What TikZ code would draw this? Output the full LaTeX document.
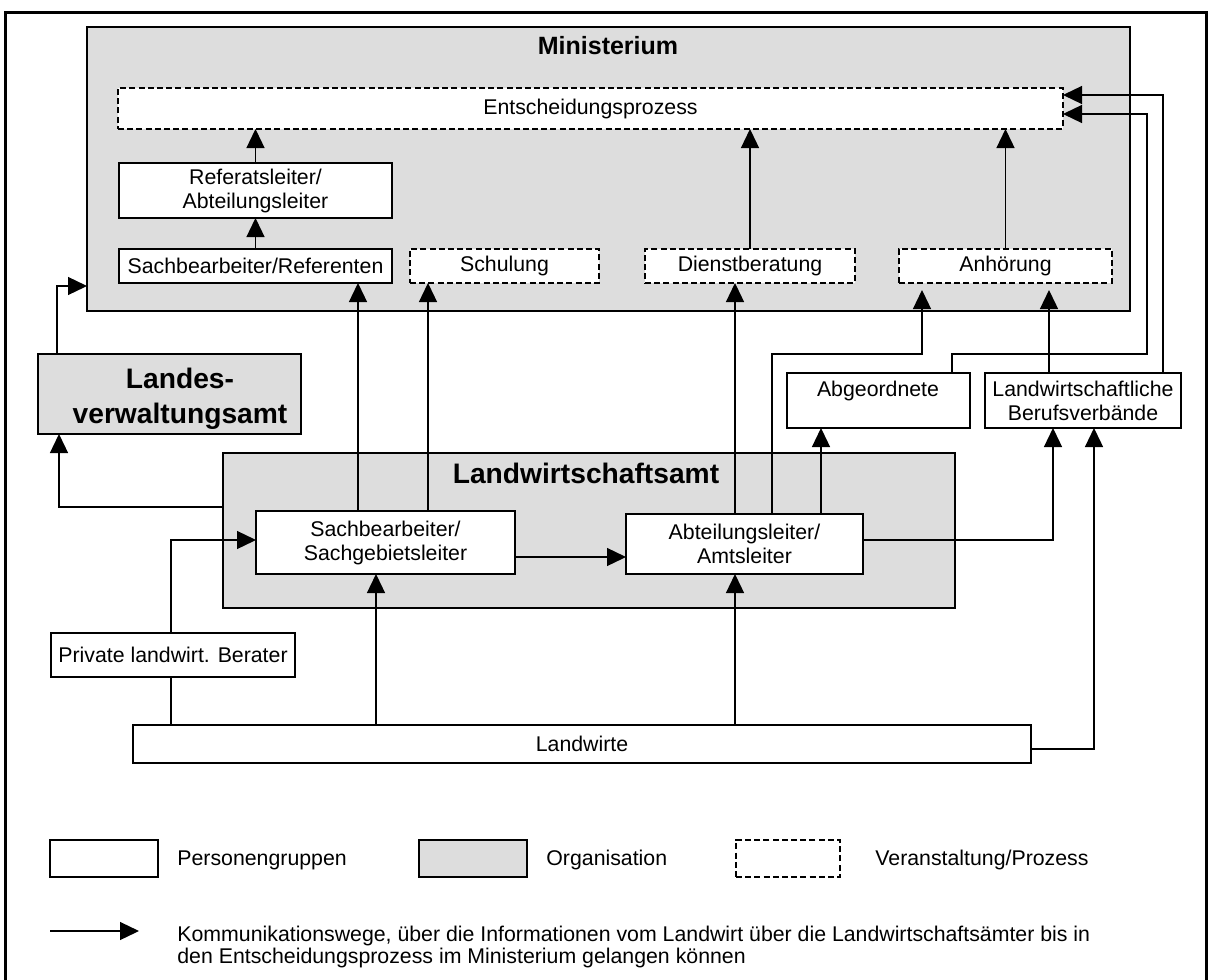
\documentclass[tikz,border=0pt]{standalone}
\usepackage{fontspec}
\setmainfont{Liberation Sans}
\usetikzlibrary{arrows.meta,calc}
\definecolor{orggray}{RGB}{221,221,221}
\newcommand{\nfs}{\fontsize{10.65pt}{12pt}\selectfont}
\newcommand{\bfs}{\fontsize{14.1pt}{17.5pt}\selectfont\bfseries}
\newcommand{\mfs}{\fontsize{12.5pt}{15pt}\selectfont\bfseries}
\begin{document}
\begin{tikzpicture}[x=0.5pt,y=-0.5pt,
  box/.style={draw, line width=0.65pt, fill=white, inner sep=0pt, outer sep=0pt, align=center, font=\nfs},
  org/.style={box, fill=orggray},
  proc/.style={box, dash pattern=on 3pt off 1.6pt},
  conn/.style={line width=0.65pt},
  arr/.style={conn, -{Triangle[length=9.5pt,width=9pt]}},
  lbl/.style={inner sep=0pt, font=\nfs, align=center}]
\useasboundingbox (0,0) rectangle (1209,979);
\fill[white] (0,0) rectangle (1209,979);
% outer frame
\draw[line width=1.5pt] (5.5,990) -- (5.5,12.5) -- (1206,12.5) -- (1206,990);

% helper coordinates
\foreach \n/\v in {a/358,b/428,c/735,d/772,e/821,f/952,g/1163,h/1049,i/1053,j/1094,k/376,l/171,m/57,n/59,o/922,p/1147}
  \coordinate (x\n) at (\v,0);
\foreach \n/\v in {a/354,b/95,c/114,d/540,e/749,f/286,g/507,h/557}
  \coordinate (y\n) at (0,\v);

% Ministerium
\node[org, minimum width=521.5pt, minimum height=142pt] (min) at (608.5,169) {};
\node[font=\mfs, anchor=base, inner sep=0pt] (mint) at (608,55) {Ministerium};
\node[proc, minimum width=472.5pt, minimum height=20.5pt] (ent) at (590.5,108.5) {Entscheidungsprozess};
\node[box, minimum width=136.5pt, minimum height=27.5pt] (ref) at (255.5,190.5) {Referatsleiter/\\Abteilungsleiter};
\node[box, minimum width=136.5pt, minimum height=17pt] (sref) at (255.5,266) {Sachbearbeiter/Referenten};
\node[proc, minimum width=94.5pt, minimum height=17pt] (schul) at (504.5,266) {Schulung};
\node[proc, minimum width=105pt, minimum height=17pt] (dienst) at (750,266) {Dienstberatung};
\node[proc, minimum width=106.5pt, minimum height=17pt] (anh) at (1005.5,266) {Anhörung};

% Landesverwaltungsamt
\node[org, minimum width=131.5pt, minimum height=40pt] (lva) at (169.5,394) {};
\node[inner sep=0pt, font=\bfs, align=center] (lvat) at (180,399) {Landes-\\verwaltungsamt};

% Abgeordnete, Berufsverbaende
\node[box, minimum width=91.5pt, minimum height=27.5pt] (abg) at (878.5,400.5) {};
\node[lbl, anchor=base] (abgt) at (878,396) {Abgeordnete};
\node[box, minimum width=98pt, minimum height=27.5pt] (bv) at (1083,400.5) {Landwirtschaftliche\\Berufsverbände};

% Landwirtschaftsamt
\node[org, minimum width=366pt, minimum height=77.5pt] (lwa) at (589,530.5) {};
\node[font=\bfs, anchor=base, inner sep=0pt] (lwat) at (586,483) {Landwirtschaftsamt};
\node[box, minimum width=129.5pt, minimum height=31.5pt] (sb) at (385.5,542.5) {Sachbearbeiter/\\Sachgebietsleiter};
\node[box, minimum width=118.5pt, minimum height=30pt] (al) at (744.5,544) {Abteilungsleiter/\\Amtsleiter};

% Private, Landwirte
\node[box, minimum width=122pt, minimum height=22pt] (priv) at (173,655) {Private landwirt. Berater};
\node[box, minimum width=449pt, minimum height=19pt] (lw) at (582,744) {Landwirte};

% connectors inside Ministerium
\draw[arr] (sref.north) -- (ref.south);
\draw[arr] (ref.north) -- (ref.north |- ent.south);
\draw[arr] (dienst.north) -- (dienst.north |- ent.south);
\draw[arr] (anh.north) -- (anh.north |- ent.south);

% from Landwirtschaftsamt upward
\draw[arr] (sb.north -| xa) -- (sref.south -| xa);
\draw[arr] (sb.north -| xb) -- (schul.south -| xb);
\draw[arr] (al.north -| xc) -- (dienst.south -| xc);
\draw[arr, shorten >=3.5pt] (al.north -| xd) -- (xd |- ya) -- (xo |- ya) -- (anh.south -| xo);
\draw[arr] (al.north -| xe) -- (abg.south -| xe);
\draw[arr] (abg.north -| xf) -- (xf |- ya) -- (xp |- ya) -- (xp |- yc) -- (ent.east |- yc);
\draw[arr] (bv.north -| xg) -- (xg |- yb) -- (ent.east |- yb);
\draw[arr, shorten >=3.5pt] (bv.north -| xh) -- (anh.south -| xh);
\draw[arr] (al.east |- yd) -- (xi |- yd) -- (bv.south -| xi);
\draw[arr] (lw.east |- ye) -- (xj |- ye) -- (bv.south -| xj);
\draw[arr] (sb.east |- yh) -- (al.west |- yh);

% from Landwirte
\draw[arr] (lw.north -| xk) -- (sb.south -| xk);
\draw[arr] (lw.north -| xc) -- (al.south -| xc);
\draw[conn] (lw.north -| xl) -- (priv.south -| xl);
\draw[arr] (priv.north -| xl) -- (xl |- yd) -- (sb.west |- yd);

% Landesverwaltungsamt links
\draw[arr] (lva.north -| xm) -- (xm |- yf) -- (min.west |- yf);
\draw[arr] (lwa.west |- yg) -- (xn |- yg) -- (lva.south -| xn);

% legend
\node[box, minimum width=54pt, minimum height=18.5pt] (lg1) at (104,858.5) {};
\node[lbl, anchor=west] (lg1t) at (177,860) {Personengruppen};
\node[org, minimum width=54pt, minimum height=18.5pt] (lg2) at (473,858.5) {};
\node[lbl, anchor=west] (lg2t) at (546,860) {Organisation};
\node[proc, minimum width=52pt, minimum height=18.5pt] (lg3) at (788,858.5) {};
\node[lbl, anchor=west] (lg3t) at (875,860) {Veranstaltung/Prozess};
\coordinate (la1) at (50,931);
\coordinate (la2) at (139,931);
\draw[arr] (la1) -- (la2);
\node[inner sep=0pt, font=\fontsize{10.65pt}{11pt}\selectfont, align=left, anchor=north west] (lgat) at (177,926) {Kommunikationswege, über die Informationen vom Landwirt über die Landwirtschaftsämter bis in\\den Entscheidungsprozess im Ministerium gelangen können};
\end{tikzpicture}
\end{document}
